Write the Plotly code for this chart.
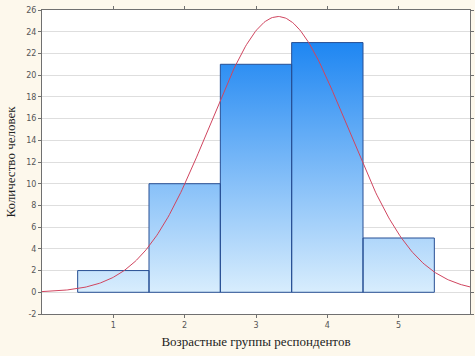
import numpy as np
import plotly.graph_objects as go

# Data
groups = [1, 2, 3, 4, 5]
counts = [2, 10, 21, 23, 5]
y_ticks = list(range(-2, 27, 2))
y_tick_labels = [str(v) for v in y_ticks]
x_title = "Возрастные группы респондентов"
y_title = "Количество человек"

# Histogram bars as polygons (bin width 1)
bx, by = [], []
for g, c in zip(groups, counts):
    bx += [g - 0.5, g - 0.5, g + 0.5, g + 0.5, g - 0.5, None]
    by += [0, c, c, 0, 0, None]

# Fitted normal curve from histogram data
g_arr = np.array(groups, float)
c_arr = np.array(counts, float)
n = c_arr.sum()
mean = (g_arr * c_arr).sum() / n
sd = np.sqrt(((g_arr - mean) ** 2 * c_arr).sum() / (n - 1))
xs = np.linspace(0, 6, 300)
ys = n * 1.0 / (sd * np.sqrt(2 * np.pi)) * np.exp(-0.5 * ((xs - mean) / sd) ** 2)

fig = go.Figure()
fig.add_trace(go.Scatter(
    x=bx, y=by, mode="lines", fill="toself",
    line=dict(color="#274f94", width=1),
    fillgradient=dict(type="vertical", start=0, stop=max(counts),
                      colorscale=[[0, "#d8edfd"], [1, "#1e86f2"]]),
    hoverinfo="skip", showlegend=False,
))
fig.add_trace(go.Scatter(
    x=xs, y=ys, mode="lines",
    line=dict(color="#d0455f", width=1),
    showlegend=False,
))

axis_common = dict(
    showline=True, linecolor="#707070", linewidth=1, mirror="ticks",
    ticks="outside", ticklen=3, tickcolor="#707070",
    tickfont=dict(family="DejaVu Sans", size=8, color="#555555"),
    zeroline=False, automargin=False,
)
fig.update_xaxes(range=[0, 6], tickvals=groups, showgrid=False,
                 title=dict(text=x_title, standoff=8,
                            font=dict(family="Liberation Serif", size=13, color="#222")),
                 **axis_common)
fig.update_yaxes(range=[-2, 26], tickvals=y_ticks, ticktext=y_tick_labels,
                 showgrid=True, gridcolor="#dedede", gridwidth=1,
                 title=dict(text=y_title, standoff=7,
                            font=dict(family="Liberation Serif", size=13, color="#222")),
                 **axis_common)
fig.update_layout(
    width=475, height=356,
    margin=dict(l=42, r=5, t=10, b=42),
    paper_bgcolor="#fdf8ec", plot_bgcolor="#ffffff",
)
fig.write_html("out.html", config={"displayModeBar": False},
               post_script="document.body.style.margin='0';document.body.style.overflow='hidden';")
